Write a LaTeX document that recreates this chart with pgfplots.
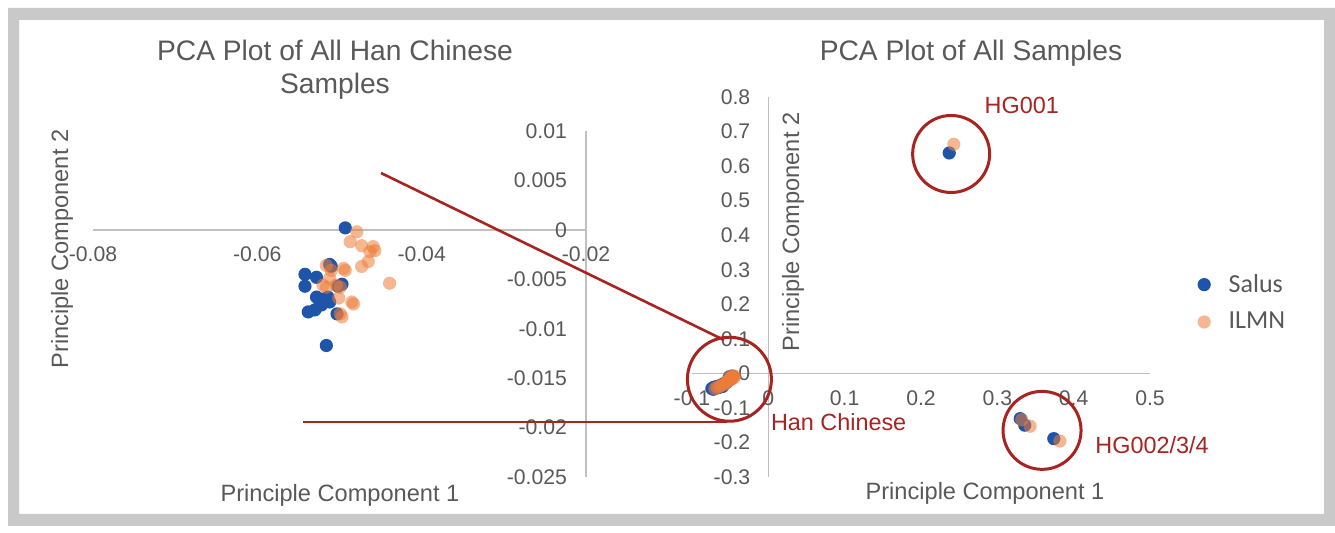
\documentclass[border=0pt]{standalone}
\usepackage{fontspec}
\setmainfont{Liberation Sans}
\newfontfamily\legfont{Carlito}
\usepackage{pgfplots}
\pgfplotsset{compat=1.18}
\definecolor{txt}{HTML}{595959}
\definecolor{axgray}{HTML}{C0C0C0}
\definecolor{salus}{HTML}{1F55A8}
\definecolor{ilmn}{HTML}{EE7D3A}
\definecolor{anno}{HTML}{A82420}
\definecolor{framegray}{HTML}{C9C9C9}
\pgfplotsset{
  base/.style={
    scale only axis, enlargelimits=false,
    major tick length=0pt,
    tick style={draw=none},
    ticklabel style={font=\fontsize{10.6}{12}\selectfont, text=txt},
    scaled ticks=false,
    /pgf/number format/assume math mode=true,
    /pgf/number format/fixed, /pgf/number format/precision=3,
    hide obscured x ticks=false, hide obscured y ticks=false,
    clip=false,
  },
  nolinearrows/.style={
    axis line style={axgray, line width=0.8pt},
    every inner x axis line/.append style={-},
    every inner y axis line/.append style={-},
    every outer x axis line/.append style={-},
    every outer y axis line/.append style={-},
  },
  salusmark/.style={only marks, color=salus, mark=*, mark size=3.3pt, mark options={draw opacity=0, fill=salus}},
  ilmnmark/.style={only marks, color=ilmn, mark=*, mark size=3.3pt, mark options={draw opacity=0, fill=ilmn, fill opacity=0.55}},
}
\begin{document}
\begin{tikzpicture}
\fill[white] (0,0) rectangle (667.5pt,-266.5pt);
\fill[framegray, even odd rule] (4pt,-4pt) rectangle (667.5pt,-263pt) (9.5pt,-10pt) rectangle (662pt,-257pt);

% ---------- left axis ----------
\begin{axis}[base, at={(46.5pt,-238.5pt)}, anchor=south west, width=246.5pt, height=173pt,
  xmin=-0.08, xmax=-0.02, ymin=-0.025, ymax=0.01,
  axis x line=middle, axis y line=right, nolinearrows,
  xtick={-0.08,-0.06,-0.04,-0.02},
  ytick={-0.025,-0.02,-0.015,-0.01,-0.005,0,0.005,0.01},
  xticklabel style={anchor=north, yshift=-5pt},
  yticklabel style={anchor=east, xshift=-6pt},
]
\addplot[salusmark] coordinates {
(-0.0493,0.0002) (-0.0542,-0.0045) (-0.0528,-0.0048) (-0.0542,-0.0057)
(-0.0512,-0.0035) (-0.0510,-0.0037) (-0.0497,-0.0055) (-0.0502,-0.0057)
(-0.0528,-0.0068) (-0.0514,-0.0068) (-0.0520,-0.0070) (-0.0512,-0.0073)
(-0.0522,-0.0076) (-0.0538,-0.0083) (-0.0530,-0.0081) (-0.0503,-0.0085)
(-0.0516,-0.0117) (-0.0524,-0.0072)
};
\addplot[ilmnmark] coordinates {
(-0.0479,-0.0002) (-0.0487,-0.0012) (-0.0473,-0.0016) (-0.0459,-0.0017)
(-0.0463,-0.0022) (-0.0457,-0.0021) (-0.0465,-0.0032) (-0.0473,-0.0037)
(-0.0439,-0.0054) (-0.0516,-0.0036) (-0.0510,-0.0041) (-0.0495,-0.0039)
(-0.0493,-0.0041) (-0.0512,-0.0049) (-0.0520,-0.0056) (-0.0504,-0.0056)
(-0.0499,-0.0058) (-0.0516,-0.0058) (-0.0501,-0.0069) (-0.0485,-0.0073)
(-0.0483,-0.0075) (-0.0499,-0.0085) (-0.0497,-0.0088)
};
\end{axis}

% ---------- right axis ----------
\begin{axis}[base, at={(346pt,-238.5pt)}, anchor=south west, width=229pt, height=190pt,
  xmin=-0.1, xmax=0.5, ymin=-0.3, ymax=0.8,
  axis x line=middle, axis y line=middle, nolinearrows,
  xtick={-0.1,0,0.1,0.2,0.3,0.4,0.5},
  ytick={-0.3,-0.2,-0.1,0,0.1,0.2,0.3,0.4,0.5,0.6,0.7,0.8},
  xticklabel style={anchor=north, yshift=-5pt},
  yticklabel style={anchor=east, xshift=-5.5pt},
  legend style={at={(axis description cs:1.09,0.458)}, anchor=west, draw=none, fill=none,
    font=\legfont\fontsize{13}{15}\selectfont, text=txt, row sep=4.5pt},
  legend image code/.code={%
    \draw[mark repeat=2,mark phase=2,#1] plot coordinates {(0cm,0cm) (0.3cm,0cm) (0.6cm,0cm)};
    \path (0.6cm+1.5pt,0cm);},
  legend cell align=left,
]
\addplot[salusmark] coordinates {
(-0.074,-0.044) (-0.072,-0.046) (-0.071,-0.040) (-0.069,-0.043) (-0.067,-0.038)
(-0.065,-0.041) (-0.063,-0.036) (-0.061,-0.033) (-0.060,-0.038) (-0.058,-0.030)
(-0.056,-0.028) (-0.054,-0.025) (-0.052,-0.020) (-0.050,-0.017) (-0.049,-0.012)
(-0.051,-0.010) (-0.047,-0.008)
(0.237,0.638)
(0.330,-0.131) (0.336,-0.150) (0.374,-0.189)
};
\addlegendentry{Salus}
\addplot[ilmnmark] coordinates {
(-0.070,-0.044) (-0.067,-0.041) (-0.064,-0.038) (-0.062,-0.035) (-0.059,-0.033)
(-0.057,-0.030) (-0.055,-0.026) (-0.053,-0.023) (-0.051,-0.020) (-0.050,-0.016)
(-0.048,-0.014) (-0.047,-0.011) (-0.046,-0.009) (-0.044,-0.008) (-0.045,-0.013)
(-0.049,-0.018) (-0.052,-0.013) (-0.048,-0.007)
(0.243,0.663)
(0.332,-0.134) (0.343,-0.153) (0.382,-0.196)
};
\addlegendentry{ILMN}
\draw[anno, line width=1.5pt] (axis cs:-0.051,-0.017) circle[radius=21pt];
\draw[anno, line width=1.5pt] (axis cs:0.2395,0.635) circle[radius=19.25pt];
\draw[anno, line width=1.5pt] (axis cs:0.3586,-0.165) circle[radius=19.5pt];
\node[anno, font=\fontsize{11.7}{14}\selectfont, anchor=center] at (axis cs:0.332,0.776) {HG001};
\node[anno, font=\fontsize{11.7}{14}\selectfont, anchor=west, inner sep=0pt] at (axis cs:0.003,-0.142) {Han Chinese};
\node[anno, font=\fontsize{11.7}{14}\selectfont, anchor=west, inner sep=0pt] at (axis cs:0.428,-0.208) {HG002/3/4};
\end{axis}

% connector lines
\draw[anno, line width=1.3pt] (190.5pt,-86.5pt) -- (362pt,-170pt);
\draw[anno, line width=1.3pt] (151.5pt,-211pt) -- (363.5pt,-211pt);

% titles and axis labels
\node[align=center, font=\fontsize{14.1}{16.5}\selectfont, text=txt] at (167.5pt,-34.75pt) {PCA Plot of All Han Chinese\\Samples};
\node[font=\fontsize{14.1}{16.5}\selectfont, text=txt] at (485.5pt,-26.5pt) {PCA Plot of All Samples};
\node[font=\fontsize{11.8}{14}\selectfont, text=txt] at (170pt,-247.5pt) {Principle Component 1};
\node[font=\fontsize{11.8}{14}\selectfont, text=txt, rotate=90] at (31pt,-124.5pt) {Principle Component 2};
\node[font=\fontsize{11.8}{14}\selectfont, text=txt] at (492.5pt,-246.5pt) {Principle Component 1};
\node[font=\fontsize{11.8}{14}\selectfont, text=txt, rotate=90] at (396.5pt,-116pt) {Principle Component 2};
\end{tikzpicture}
\end{document}
